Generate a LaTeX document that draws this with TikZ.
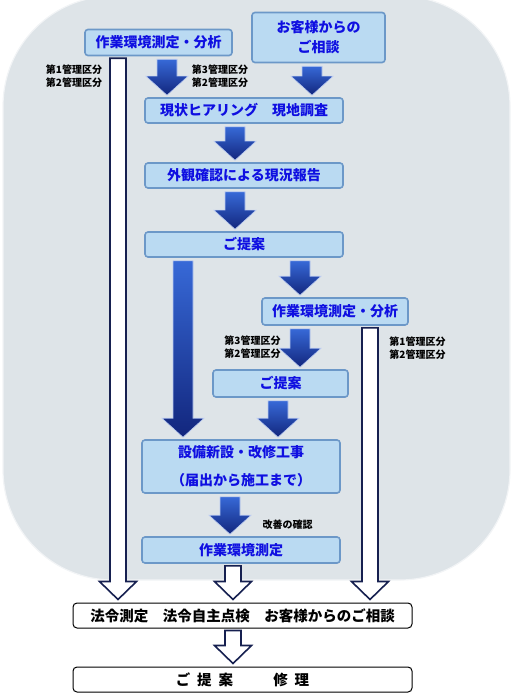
\documentclass[tikz,border=0pt]{standalone}
\usepackage{fontspec}
\setmainfont{Noto Sans CJK JP}
\usepackage{tikz}
\usetikzlibrary{calc}

\definecolor{bgfill}{RGB}{222,228,232}
\definecolor{boxfill}{RGB}{186,218,242}
\definecolor{boxedge}{RGB}{108,152,200}
\definecolor{boxtext}{RGB}{15,15,225}
\definecolor{arrlight}{RGB}{55,105,215}
\definecolor{arrdark}{RGB}{18,38,125}
\definecolor{hollowedge}{RGB}{22,32,80}

% block arrow: x position, from node anchor, to node anchor
\newcommand{\bluearrow}[3]{%
  \path[barrow] let \p1=(#1,0 |- #2), \p2=(#1,0 |- #3) in
    (\x1-10pt,\y1-3pt) -- (\x1+10pt,\y1-3pt) -- (\x1+10pt,\y2+21pt)
    -- (\x1+21pt,\y2+21pt) -- (\x1,\y2+2pt) -- (\x1-21pt,\y2+21pt)
    -- (\x1-10pt,\y2+21pt) -- cycle;}
\newcommand{\hollowarrow}[3]{%
  \path[harrow] let \p1=(#1,0 |- #2), \p2=(#1,0 |- #3) in
    (\x1-8pt,\y1-2pt) -- (\x1+8pt,\y1-2pt) -- (\x1+8pt,\y2+21pt)
    -- (\x1+18.5pt,\y2+21pt) -- (\x1,\y2+3pt) -- (\x1-18.5pt,\y2+21pt)
    -- (\x1-8pt,\y2+21pt) -- cycle;}

\begin{document}
\begin{tikzpicture}[
    x=1pt, y=-1pt,
    font=\bfseries,
    box/.style={draw=boxedge, line width=1.6pt, fill=boxfill,
                rounded corners=3pt, text=boxtext, align=center,
                inner sep=0pt, font=\bfseries\fontsize{14}{20}\selectfont},
    endbox/.style={draw=black, line width=1pt, fill=white,
                   rounded corners=4pt, align=center, inner sep=0pt,
                   minimum width=339pt, minimum height=25pt,
                   font=\bfseries\fontsize{14.5}{18}\selectfont},
    note/.style={align=center, inner sep=0pt,
                 font=\bfseries\fontsize{10}{12.5}\selectfont},
    barrow/.style={top color=arrlight, bottom color=arrdark,
                   draw=arrlight!35!white, line width=0.6pt},
    harrow/.style={fill=white, draw=hollowedge, line width=1.6pt}
  ]
    \useasboundingbox (0,0) rectangle (520,700);
    \fill[bgfill, rounded corners=110pt] (3,-4) rectangle (510,580);
    \draw[white!60!bgfill, line width=1.2pt, rounded corners=110pt]
      (3,-4) rectangle (510,580);

    \node[box, minimum width=147pt, minimum height=26pt] (meas1) at (158.5,42.5) {作業環境測定・分析};
    \node[box, minimum width=133pt, minimum height=50pt] (cons) at (318.5,37.5) {お客様からの\\ご相談};
    \node[box, minimum width=198pt, minimum height=25pt] (hear) at (244,110.5) {現状ヒアリング　現地調査};
    \node[box, minimum width=198pt, minimum height=25pt] (report) at (244,175.5) {外観確認による現況報告};
    \node[box, minimum width=198pt, minimum height=25pt] (prop1) at (244,244.5) {ご提案};
    \node[box, minimum width=146pt, minimum height=27pt] (meas2) at (335,311.5) {作業環境測定・分析};
    \node[box, minimum width=135pt, minimum height=27pt] (prop2) at (280.5,383.5) {ご提案};
    \node[box, minimum width=198pt, minimum height=53pt] (work) at (241,466.5) {設備新設・改修工事\\[8pt]（届出から施工まで）};
    \node[box, minimum width=198pt, minimum height=26pt] (meas3) at (241,550) {作業環境測定};
    \node[endbox] (law) at (242.5,615.5) {法令測定　法令自主点検　お客様からのご相談};
    \node[endbox] (fix) at (242.5,679.5) {ご\hspace{7pt}提\hspace{7pt}案\hspace{40pt}修\hspace{7pt}理};

    \node[note] (cls1) at (74,76) {第1管理区分\\第2管理区分};
    \node[note] (cls2) at (220,76) {第3管理区分\\第2管理区分};
    \node[note] (cls3) at (252.5,347) {第3管理区分\\第2管理区分};
    \node[note] (cls4) at (417.5,348) {第1管理区分\\第2管理区分};
    \node[note] (check) at (287.5,525) {改善の確認};

    \bluearrow{167}{meas1.south}{hear.north}
    \bluearrow{312}{cons.south}{hear.north}
    \bluearrow{235}{hear.south}{report.north}
    \bluearrow{235}{report.south}{prop1.north}
    \bluearrow{300}{prop1.south}{meas2.north}
    \bluearrow{183}{prop1.south}{work.north}
    \bluearrow{300}{meas2.south}{prop2.north}
    \bluearrow{278}{prop2.south}{work.north}
    \bluearrow{230}{work.south}{meas3.north}

    \hollowarrow{118}{meas1.south}{law.north}
    \hollowarrow{370}{meas2.south}{law.north}
    \hollowarrow{233}{meas3.south}{law.north}
    \hollowarrow{233}{law.south}{fix.north}
  \end{tikzpicture}
\end{document}
